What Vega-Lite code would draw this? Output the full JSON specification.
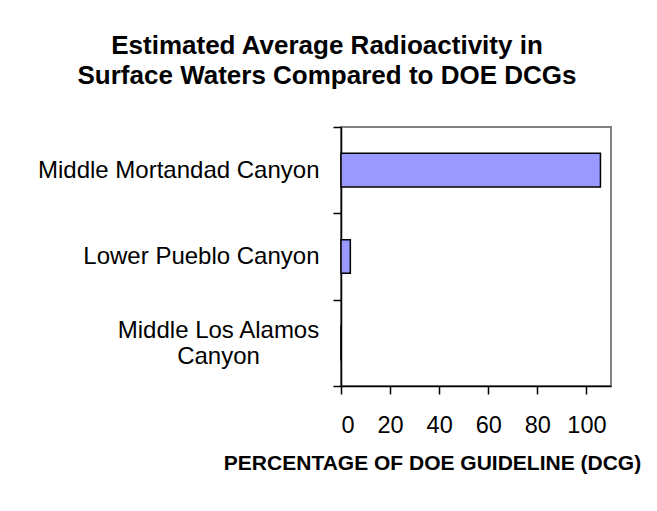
{
  "$schema": "https://vega.github.io/schema/vega-lite/v6.json",
  "width": 270,
  "height": 259,
  "autosize": {"type": "none"},
  "padding": {"left": 341, "top": 127, "right": 46, "bottom": 125},
  "background": "white",
  "title": {
    "text": ["Estimated Average Radioactivity in", "Surface Waters Compared to DOE DCGs"],
    "font": "Liberation Sans",
    "fontSize": 26,
    "fontWeight": "bold",
    "color": "black",
    "anchor": "middle",
    "frame": "group",
    "dx": -149,
    "lineHeight": 30,
    "offset": 26
  },
  "data": {
    "values": [
      {"site": "Middle Mortandad Canyon", "percent": 105.7},
      {"site": "Lower Pueblo Canyon", "percent": 3.8},
      {"site": "Middle Los Alamos Canyon", "percent": 0.1}
    ]
  },
  "mark": {"type": "bar", "fill": "#9999FF", "stroke": "black", "strokeWidth": 1.5, "height": {"band": 0.39}},
  "encoding": {
    "y": {
      "field": "site",
      "type": "nominal",
      "sort": null,
      "scale": {"paddingInner": 0, "paddingOuter": 0},
      "axis": {
        "title": null,
        "labelFont": "Liberation Sans",
        "labelFontSize": 24,
        "labelColor": "black",
        "labelPadding": {"expr": "datum.value == 'Middle Los Alamos Canyon' ? 115 : 14"},
        "labelAlign": {"expr": "datum.value == 'Middle Los Alamos Canyon' ? 'center' : 'right'"},
        "labelLimit": 400,
        "labelLineHeight": 26,
        "labelExpr": "datum.value == 'Middle Los Alamos Canyon' ? ['Middle Los Alamos', 'Canyon'] : datum.value",
        "labelOffset": {"expr": "datum.value == 'Middle Los Alamos Canyon' ? -12 : 0"},
        "tickBand": "extent",
        "tickColor": "black",
        "tickSize": 8,
        "tickWidth": 1.5,
        "domainColor": "black",
        "domainWidth": 1.5
      }
    },
    "x": {
      "field": "percent",
      "type": "quantitative",
      "scale": {"domain": [0, 110], "nice": false},
      "axis": {
        "values": [0, 20, 40, 60, 80, 100],
        "grid": false,
        "labelFont": "Liberation Sans",
        "labelFontSize": 23.5,
        "labelColor": "black",
        "labelPadding": 19,
        "tickColor": "black",
        "tickSize": 8,
        "tickWidth": 1.5,
        "domainColor": "black",
        "domainWidth": 1.5,
        "title": "PERCENTAGE OF DOE GUIDELINE (DCG)",
        "titleFont": "Liberation Sans",
        "titleFontSize": 21,
        "titleFontWeight": "bold",
        "titleColor": "black",
        "titleX": 91,
        "titleAlign": "center",
        "titlePadding": 16
      }
    }
  },
  "config": {"view": {"stroke": "#808080", "strokeWidth": 2}}
}
